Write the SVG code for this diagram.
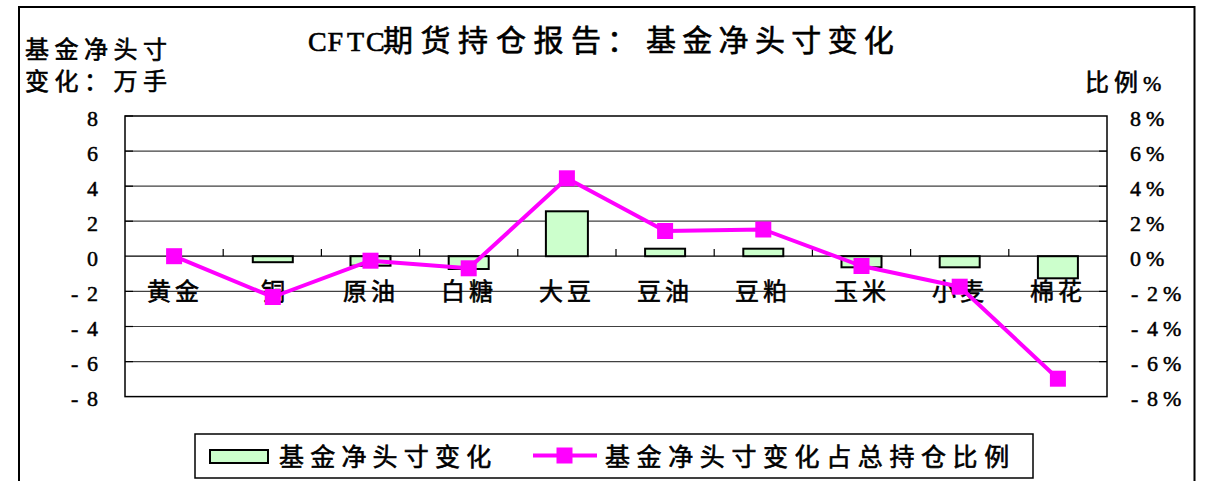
<svg xmlns="http://www.w3.org/2000/svg" width="1207" height="481" viewBox="0 0 1207 481">
<style>
.cjk{font-family:"Noto Sans CJK SC","Noto Sans",sans-serif;font-weight:normal;fill:#000;stroke:#000;stroke-width:0.6}
.num{font-family:"Liberation Serif","Times New Roman",serif;font-size:22px;fill:#000;stroke:#000;stroke-width:0.5}
.grid{stroke:#404040;stroke-width:1.2;fill:none}
.tick{stroke:#000;stroke-width:1.2}
.bar{fill:#CCFFCC;stroke:#000;stroke-width:2}
.series{fill:none;stroke:#FF00FF;stroke-width:4;stroke-linejoin:round}
</style>
<defs>
<marker id="sq" markerUnits="userSpaceOnUse" markerWidth="18" markerHeight="18" refX="9" refY="9" viewBox="0 0 18 18">
<rect x="1" y="1" width="16" height="16" fill="#FF00FF"/>
</marker>
</defs>
<rect width="1207" height="481" fill="#fff"/>
<g id="frame"><rect x="19" y="7" width="1175.5" height="490" fill="none" stroke="#000" stroke-width="2"/></g>

<g id="title">
<text class="cjk" font-size="30" y="51"><tspan font-family="Liberation Serif,serif" font-size="28" x="308 327.5 347 366">CFTC</tspan><tspan x="383 420.5 458 496 533.5 571 607 646 682.3 718.6 754.9 791.2 827.5 863.8">期货持仓报告：基金净头寸变化</tspan></text>
</g>
<g id="left-axis-title">
<text class="cjk" font-size="24" x="25 54.5 84 113.5 143" y="58">基金净头寸</text>
<text class="cjk" font-size="24" x="25 54.5 84 113.5 143" y="90">变化：万手</text>
</g>
<g id="right-axis-title">
<text class="cjk" font-size="24" x="1085 1114" y="91">比例</text>
<text class="num" x="1143" y="91" font-size="22">%</text>
</g>

<g id="plot">
<g class="grid">
<line x1="125" y1="151.1" x2="1107" y2="151.1"/>
<line x1="125" y1="186.2" x2="1107" y2="186.2"/>
<line x1="125" y1="221.2" x2="1107" y2="221.2"/>
<line x1="125" y1="256.2" x2="1107" y2="256.2" stroke="#000"/>
<line x1="125" y1="291.4" x2="1107" y2="291.4"/>
<line x1="125" y1="326.5" x2="1107" y2="326.5"/>
<line x1="125" y1="361.6" x2="1107" y2="361.6"/>
</g>
<rect x="125" y="116" width="982" height="280.6" fill="none" stroke="#000" stroke-width="1.5"/>
<g class="tick">
<line x1="125" y1="116" x2="133" y2="116"/><line x1="125" y1="151.1" x2="133" y2="151.1"/><line x1="125" y1="186.2" x2="133" y2="186.2"/><line x1="125" y1="221.2" x2="133" y2="221.2"/><line x1="125" y1="291.4" x2="133" y2="291.4"/><line x1="125" y1="326.5" x2="133" y2="326.5"/><line x1="125" y1="361.6" x2="133" y2="361.6"/>
<line x1="1099" y1="151.1" x2="1107" y2="151.1"/><line x1="1099" y1="186.2" x2="1107" y2="186.2"/><line x1="1099" y1="221.2" x2="1107" y2="221.2"/><line x1="1099" y1="291.4" x2="1107" y2="291.4"/><line x1="1099" y1="326.5" x2="1107" y2="326.5"/><line x1="1099" y1="361.6" x2="1107" y2="361.6"/>
<line x1="223.2" y1="249" x2="223.2" y2="256.3"/><line x1="321.4" y1="249" x2="321.4" y2="256.3"/><line x1="419.6" y1="249" x2="419.6" y2="256.3"/><line x1="517.8" y1="249" x2="517.8" y2="256.3"/><line x1="616" y1="249" x2="616" y2="256.3"/><line x1="714.2" y1="249" x2="714.2" y2="256.3"/><line x1="812.4" y1="249" x2="812.4" y2="256.3"/><line x1="910.6" y1="249" x2="910.6" y2="256.3"/><line x1="1008.8" y1="249" x2="1008.8" y2="256.3"/>
</g>
</g>

<g id="left-axis-labels" class="num">
<text x="87" y="126">8</text>
<text x="87" y="161">6</text>
<text x="87" y="196">4</text>
<text x="87" y="231">2</text>
<text x="87" y="266">0</text>
<text x="71 87" y="301">-2</text>
<text x="71 87" y="336">-4</text>
<text x="71 87" y="371">-6</text>
<text x="71 87" y="406">-8</text>
</g>
<g id="right-axis-labels" class="num">
<text x="1130 1146" y="126">8%</text>
<text x="1130 1146" y="161">6%</text>
<text x="1130 1146" y="196">4%</text>
<text x="1130 1146" y="231">2%</text>
<text x="1130 1146" y="266">0%</text>
<text x="1131 1147 1163" y="301">-2%</text>
<text x="1131 1147 1163" y="336">-4%</text>
<text x="1131 1147 1163" y="371">-6%</text>
<text x="1131 1147 1163" y="406">-8%</text>
</g>

<g id="bars">
<rect id="bar-tong" class="bar" x="252.8" y="256.2" width="40" height="6"/>
<rect id="bar-yuanyou" class="bar" x="350.5" y="256.2" width="40" height="9.5"/>
<rect id="bar-baitang" class="bar" x="448.7" y="256.2" width="40" height="12.8"/>
<rect id="bar-dadou" class="bar" x="545.9" y="211.3" width="42" height="44.9"/>
<rect id="bar-douyou" class="bar" x="645.1" y="248.7" width="40" height="7.5"/>
<rect id="bar-doupo" class="bar" x="743.3" y="248.7" width="40" height="7.5"/>
<rect id="bar-yumi" class="bar" x="841.5" y="256.2" width="40" height="11.1"/>
<rect id="bar-xiaomai" class="bar" x="939.7" y="256.2" width="40" height="11.1"/>
<rect id="bar-mianhua" class="bar" x="1037.9" y="256.2" width="40" height="22.1"/>
</g>

<g id="category-labels" class="cjk" font-size="24">
<text x="147 175" y="300">黄金</text>
<text x="261" y="300">铜</text>
<text x="343 371" y="300">原油</text>
<text x="441 469" y="300">白糖</text>
<text x="539 567" y="300">大豆</text>
<text x="637 665" y="300">豆油</text>
<text x="735 763" y="300">豆粕</text>
<text x="834 862" y="300">玉米</text>
<text x="932 960" y="300">小麦</text>
<text x="1030 1058" y="300">棉花</text>
</g>

<g id="connectors">
<polyline class="series" marker-start="url(#sq)" marker-mid="url(#sq)" marker-end="url(#sq)" points="174.1,256.2 272.8,297 370.5,260.7 468.7,268.3 566.9,178.3 665.1,231 763.3,229.5 861.5,266 959.7,286.7 1057.9,378.7"/>
</g>

<g id="legend">
<rect x="195" y="434" width="838" height="44" fill="#fff" stroke="#000" stroke-width="1.5"/>
<rect class="bar" x="210" y="450" width="58" height="13"/>
<text class="cjk" font-size="25" x="279 310.2 341.4 372.6 403.8 435 466.2" y="466">基金净头寸变化</text>
<line x1="533" y1="455.5" x2="597" y2="455.5" stroke="#FF00FF" stroke-width="4"/>
<rect x="556.5" y="447.5" width="16" height="16" fill="#FF00FF"/>
<text class="cjk" font-size="25" x="605 636.6 668.2 699.8 731.4 763 794.6 826.2 857.8 889.4 921 952.6 984.2" y="466">基金净头寸变化占总持仓比例</text>
</g>
</svg>
